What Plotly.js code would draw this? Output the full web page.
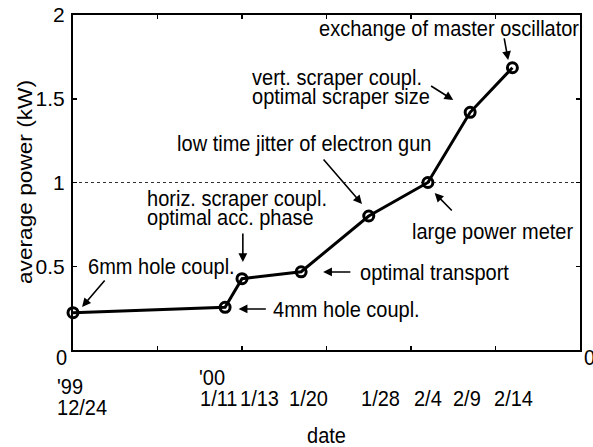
<!DOCTYPE html>
<html>
<head>
<meta charset="utf-8">
<script src="https://cdn.plot.ly/plotly-3.0.1.min.js"></script>
<style>
html,body{margin:0;padding:0;background:#fff;}
#chart{width:593px;height:447px;}
</style>
</head>
<body>
<div id="chart"></div>
<script>
// ---- data ----
var dateLabels = ["12/24", "1/11", "1/13", "1/20", "1/28", "2/4", "2/9", "2/14"];
var yearLabels = ["'99", "'00", "", "", "", "", "", ""];
var days = [0, 18, 20, 27, 35, 42, 47, 52];          // days since 1999/12/24
var power = [0.223, 0.255, 0.426, 0.467, 0.80, 1.0, 1.419, 1.685]; // kW
var yTickVals = [0.5, 1, 1.5, 2];
var yTickText = ["0.5", "1", "1.5", "2"];
var refLevel = 1;

// ---- layout helpers (positions only) ----
var FONT = "Liberation Sans, Arial, Helvetica, sans-serif";
var FS = 20;
var labelShift = [9, -6.5, 17, 7, 12, 0, -3.5, 1];   // px shift of date labels
var yearRowY = [-0.1075, -0.0806];                     // paper y of year line
var dateRowY = [-0.170, -0.1433];                      // paper y of date line

var annotations = [];
function txt(t, x, y, opts) {
  var a = Object.assign({text: t, x: x, y: y, xref: 'x', yref: 'y', showarrow: false,
    xanchor: 'left', yanchor: 'middle', borderpad: 0, borderwidth: 0,
    font: {family: FONT, size: FS, color: '#000'}}, opts || {});
  annotations.push(a);
}
function arrow(hx, hy, tx, ty) {
  annotations.push({text: '', x: hx, y: hy, ax: tx, ay: ty, xref: 'x', yref: 'y',
    axref: 'x', ayref: 'y', showarrow: true, arrowhead: 2, arrowsize: 1.1,
    arrowwidth: 1.6, arrowcolor: '#000', standoff: 0, startstandoff: 0});
}

// callouts
txt("exchange of master oscillator", 29.1, 1.922);
arrow(51.5, 1.731, 51.0, 1.869);
txt("vert. scraper coupl.", 21.2, 1.630);
txt("optimal scraper size", 21.2, 1.516);
arrow(45.0, 1.493, 42.2, 1.582);
txt("low time jitter of electron gun", 12.3, 1.236);
arrow(34.2, 0.872, 29.5, 1.146);
txt("horiz. scraper coupl.", 8.76, 0.907);
txt("optimal acc. phase", 8.76, 0.794);
arrow(20.1, 0.525, 20.1, 0.704);
txt("6mm hole coupl.", 1.78, 0.501);
arrow(1.07, 0.257, 3.9, 0.424);
txt("4mm hole coupl.", 23.7, 0.245);
arrow(19.6, 0.245, 23.0, 0.245);
txt("optimal transport", 34.0, 0.466);
arrow(29.6, 0.466, 33.0, 0.466);
txt("large power meter", 40.1, 0.710);
arrow(42.8, 0.937, 45.0, 0.824);

// date labels under the axis
for (var i = 0; i < days.length; i++) {
  var row = (i === 0) ? 0 : 1;
  if (yearLabels[i]) {
    txt(yearLabels[i], days[i], yearRowY[row], {yref: 'paper', xanchor: 'left',
      xshift: (i === 0 ? -16 : -26)});
  }
  txt(dateLabels[i], days[i], dateRowY[row], {yref: 'paper', xanchor: 'center',
    xshift: labelShift[i]});
}
// zero labels
txt("0", -0.022, -0.021, {xref: 'paper', yref: 'paper', xanchor: 'center'});
txt("0", 1.018, -0.021, {xref: 'paper', yref: 'paper', xanchor: 'center'});
// axis titles
txt("date", 0.5, -0.254, {xref: 'paper', yref: 'paper', xanchor: 'center'});
txt("average power (kW)", -0.0966, 0.5, {xref: 'paper', yref: 'paper', xanchor: 'center',
  textangle: -90, font: {family: FONT, size: 21, color: '#000'}});

var trace = {
  x: days, y: power, type: 'scatter', mode: 'lines+markers',
  line: {color: '#000', width: 3},
  marker: {symbol: 'circle-open', size: 10, color: '#000', line: {width: 3, color: '#000'}},
  cliponaxis: false, showlegend: false
};

var layout = {
  width: 593, height: 447,
  margin: {l: 73, r: 13, t: 15, b: 97, pad: 0},
  paper_bgcolor: '#fff', plot_bgcolor: '#fff',
  font: {family: FONT, size: FS, color: '#000'},
  showlegend: false,
  xaxis: {range: [0, 60], tickvals: [0, 10, 20, 30, 40, 50, 60], showticklabels: false,
    ticks: 'inside', ticklen: 4, tickwidth: 1.5, tickcolor: '#000',
    showline: true, linewidth: 2, linecolor: '#000', mirror: 'ticks',
    showgrid: false, zeroline: false, fixedrange: true},
  yaxis: {range: [0, 2], tickvals: yTickVals, ticktext: yTickText,
    ticks: 'inside', ticklen: 4, tickwidth: 1.5, tickcolor: '#000',
    ticklabelstandoff: 2,
    tickfont: {family: FONT, size: 21, color: '#000'},
    showline: true, linewidth: 2, linecolor: '#000', mirror: 'ticks',
    showgrid: false, zeroline: false, fixedrange: true},
  shapes: [{type: 'line', xref: 'paper', yref: 'y', x0: 0, x1: 1, y0: refLevel, y1: refLevel,
    line: {color: '#333', width: 1, dash: 'dot'}, layer: 'below'}],
  annotations: annotations
};

Plotly.newPlot('chart', [trace], layout, {staticPlot: true, displayModeBar: false}).then(function (gd) {
  // the reference's lettering is slightly taller than wide; stretch it a little
  var texts = gd.querySelectorAll('.annotation-text');
  texts.forEach(function (t) {
    if (t.getAttribute('transform')) return;
    t.style.transformBox = 'fill-box';
    t.style.transformOrigin = 'center';
    t.style.transform = (t.textContent === 'average power (kW)') ? 'scaleX(1.08)' : 'scaleY(1.08)';
  });
});
</script>
</body>
</html>
